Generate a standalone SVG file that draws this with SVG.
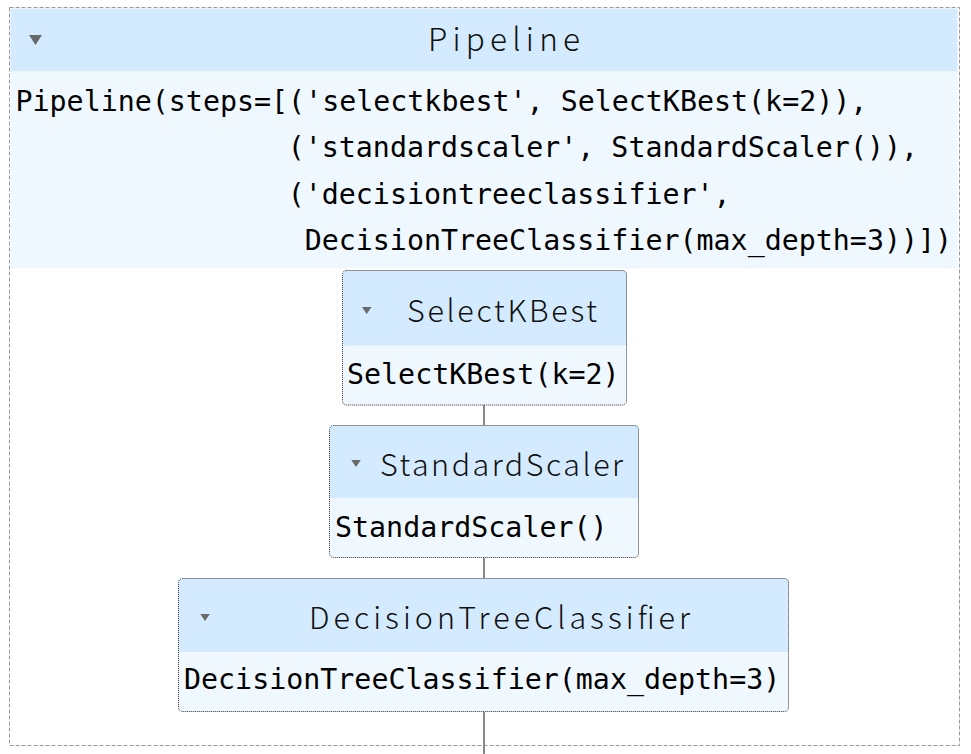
<svg xmlns="http://www.w3.org/2000/svg" width="971" height="754" viewBox="0 0 971 754">
<style>
.hdr{fill:#d4ebff}
.bdy{fill:#f0f8ff}
.frame{fill:none;stroke:#333;stroke-width:1;stroke-dasharray:1 1}
.tri{fill:#696969}
.title{font-family:"Noto Sans CJK KR","Noto Sans",sans-serif;font-weight:300;fill:#111}
.code{font-family:"DejaVu Sans Mono","Liberation Mono",monospace;font-size:28.3px;fill:#000}
.conn{stroke:#888;stroke-width:2;fill:none}
</style>
<rect width="971" height="754" fill="#fff"/>
<g id="pipeline">
<rect x="10.5" y="8.5" width="947" height="63" class="hdr"/>
<rect x="10.5" y="71.5" width="947" height="197" class="bdy"/>
<rect x="9.5" y="7.5" width="950" height="738" fill="none" stroke="#999" stroke-width="1" stroke-dasharray="4 2"/>
<polygon class="tri" points="29,35 42,35 35.5,45"/>
<text class="title" x="428" y="51" font-size="31.5" textLength="152" lengthAdjust="spacing">Pipeline</text>
<text class="code" x="15.5" y="111">Pipeline(steps=[('selectkbest', SelectKBest(k=2)),</text>
<text class="code" x="287.7" y="157">('standardscaler', StandardScaler()),</text>
<text class="code" x="287.7" y="204">('decisiontreeclassifier',</text>
<text class="code" x="304.7" y="250">DecisionTreeClassifier(max_depth=3))])</text>
</g>
<g id="connectors">
<line class="conn" x1="484" y1="405" x2="484" y2="425"/>
<line class="conn" x1="484" y1="558" x2="484" y2="578"/>
<line class="conn" x1="484" y1="712" x2="484" y2="754"/>
</g>
<g id="selectkbest">
<rect x="342.5" y="270.5" width="284" height="134.5" rx="4" class="bdy"/>
<path d="M342.5,345.5 V274.5 a4,4 0 0 1 4,-4 H622.5 a4,4 0 0 1 4,4 V345.5 Z" class="hdr"/>
<rect x="342.5" y="270.5" width="284" height="134.5" rx="4" class="frame"/>
<polygon class="tri" points="362,307 371.5,307 366.7,314"/>
<text class="title" x="407" y="321.5" font-size="30.5" textLength="190" lengthAdjust="spacing">SelectKBest</text>
<text class="code" x="347" y="384">SelectKBest(k=2)</text>
</g>
<g id="standardscaler">
<rect x="329.5" y="425.5" width="309" height="132" rx="4" class="bdy"/>
<path d="M329.5,498 V429.5 a4,4 0 0 1 4,-4 H634.5 a4,4 0 0 1 4,4 V498 Z" class="hdr"/>
<rect x="329.5" y="425.5" width="309" height="132" rx="4" class="frame"/>
<polygon class="tri" points="351.3,460 360.8,460 356,467"/>
<text class="title" x="380" y="475.5" font-size="30.5" textLength="243" lengthAdjust="spacing">StandardScaler</text>
<text class="code" x="335" y="537">StandardScaler()</text>
</g>
<g id="decisiontreeclassifier">
<rect x="178.5" y="578.5" width="610" height="133" rx="4" class="bdy"/>
<path d="M178.5,652 V582.5 a4,4 0 0 1 4,-4 H784.5 a4,4 0 0 1 4,4 V652 Z" class="hdr"/>
<rect x="178.5" y="578.5" width="610" height="133" rx="4" class="frame"/>
<polygon class="tri" points="200.3,614 209.8,614 205,621"/>
<text class="title" x="309" y="628.5" font-size="30.5" textLength="381" lengthAdjust="spacing">DecisionTreeClassifier</text>
<text class="code" x="184" y="689">DecisionTreeClassifier(max_depth=3)</text>
</g>
</svg>
